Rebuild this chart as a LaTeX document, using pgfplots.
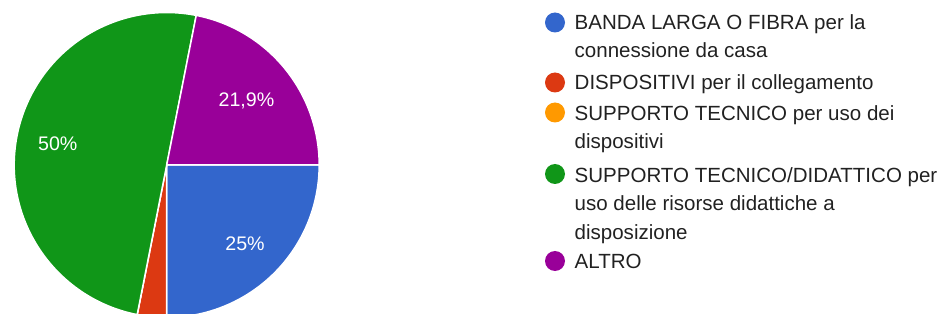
\documentclass[border=0pt]{standalone}
\usepackage{pgfplots}
\pgfplotsset{compat=1.18}
\usepackage{pgfplotstable}
\usepackage{fontspec}
\setmainfont{Liberation Sans}
\definecolor{cblue}{HTML}{3366CC}
\definecolor{cred}{HTML}{DC3912}
\definecolor{corange}{HTML}{FF9900}
\definecolor{cgreen}{HTML}{109618}
\definecolor{cpurple}{HTML}{990099}
\definecolor{ctext}{HTML}{212121}
\pgfplotstableread{
pct col
25 cblue
3.1 cred
0 corange
50 cgreen
21.9 cpurple
}\piedata
\begin{document}
\begin{tikzpicture}
\begin{axis}[
  x=1bp, y=1bp,
  xmin=0, xmax=942, ymin=0, ymax=314,
  hide axis,
  clip=true,
]
\gdef\angA{0}
\pgfplotsinvokeforeach{0,...,4}{%
  \pgfplotstablegetelem{#1}{pct}\of\piedata \let\p\pgfplotsretval
  \pgfplotstablegetelem{#1}{col}\of\piedata \let\c\pgfplotsretval
  \pgfmathsetmacro\angB{\angA-3.6*\p}%
  \edef\tmp{\noexpand\fill[\c, draw=white, line width=1.5bp, line join=round] (axis cs:166.7,149) -- ++(\angA:152.5bp) arc[start angle=\angA, end angle=\angB, radius=152.5bp] -- cycle;}%
  \tmp
  \xdef\angA{\angB}%
}
% slice labels
\node[text=white, font=\fontsize{19.7}{22}\selectfont] at (axis cs:246.5,213.5) {21,9\%};
\node[text=white, font=\fontsize{19.7}{22}\selectfont] at (axis cs:57.8,170) {50\%};
\node[text=white, font=\fontsize{19.7}{22}\selectfont] at (axis cs:245,70) {25\%};
% legend
\fill[cblue]   (axis cs:555,291.5) circle[radius=10bp];
\fill[cred]    (axis cs:555,231.5) circle[radius=10bp];
\fill[corange] (axis cs:555,201.5) circle[radius=10bp];
\fill[cgreen]  (axis cs:555,140) circle[radius=10bp];
\fill[cpurple] (axis cs:555,53)  circle[radius=10bp];
\begin{scope}[every node/.style={anchor=base west, text=ctext, font=\fontsize{20.6}{23}\selectfont, inner sep=0pt}]
\node at (axis cs:574.5,285) {BANDA LARGA O FIBRA per la};
\node at (axis cs:574.5,257) {connessione da casa};
\node at (axis cs:574.5,225) {DISPOSITIVI per il collegamento};
\node at (axis cs:574.5,194) {SUPPORTO TECNICO per uso dei};
\node at (axis cs:574.5,165.5) {dispositivi};
\node at (axis cs:574.5,132) {SUPPORTO TECNICO/DIDATTICO per};
\node at (axis cs:574.5,104) {uso delle risorse didattiche a};
\node at (axis cs:574.5,75)  {disposizione};
\node at (axis cs:574.5,45.5)  {ALTRO};
\end{scope}
\end{axis}
\pgfresetboundingbox
\path (0,0) rectangle (942bp,314bp);
\end{tikzpicture}
\end{document}
